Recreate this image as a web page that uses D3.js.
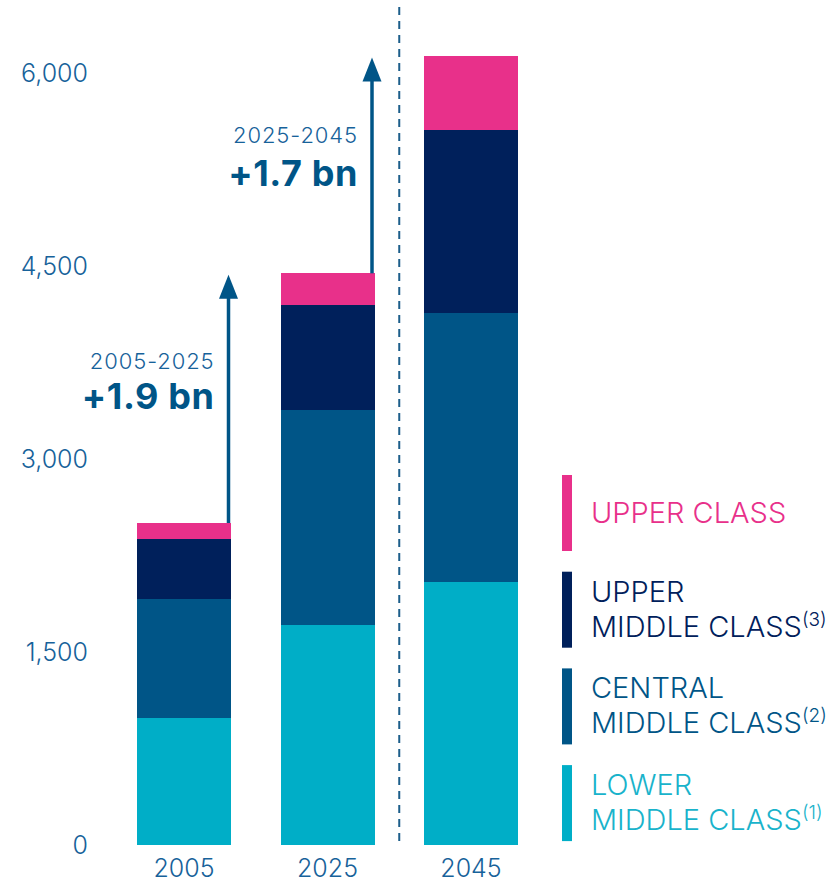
<!DOCTYPE html>
<html>
<head>
<meta charset="utf-8">
<script src="https://cdn.jsdelivr.net/npm/d3@7"></script>
<style>
  html, body { margin: 0; padding: 0; background: #ffffff; }
  svg { display: block; font-family: Inter, "Noto Sans", sans-serif; }
</style>
</head>
<body>
<svg id="chart" width="830" height="882"></svg>
<script>
// ---- data ----
const years = ["2005", "2025", "2045"];
const seriesKeys = ["lower", "central", "upperMiddle", "upper"];
const lowerMiddle = [987, 1710, 2045];
const centralMiddle = [925, 1671, 2090];
const upperMiddle = [466, 816, 1422];
const upperClass = [125, 246, 575];
const yTicks = [0, 1500, 3000, 4500, 6000];
const periodLabels = ["2005-2025", "2025-2045"];
const growthLabels = ["+1.9 bn", "+1.7 bn"];
const legendItems = [
  { key: "upper", lines: ["UPPER CLASS"], sup: "" },
  { key: "upperMiddle", lines: ["UPPER", "MIDDLE CLASS"], sup: "(3)" },
  { key: "central", lines: ["CENTRAL", "MIDDLE CLASS"], sup: "(2)" },
  { key: "lower", lines: ["LOWER", "MIDDLE CLASS"], sup: "(1)" }
];

const colors = {
  lower: "#00AEC7",
  central: "#005587",
  upperMiddle: "#00205B",
  upper: "#E8308A"
};
const textBlue = "#17629A";

const rows = years.map((y, i) => ({
  year: y,
  lower: lowerMiddle[i],
  central: centralMiddle[i],
  upperMiddle: upperMiddle[i],
  upper: upperClass[i]
}));

const svg = d3.select("#chart");

const y = d3.scaleLinear().domain([0, 6000]).range([845, 73]);
const x = d3.scaleBand().domain(years).range([112.25, 542.75])
  .paddingInner(1 - 94 / 143.5).paddingOuter((1 - 94 / 143.5) / 2);

const stacked = d3.stack().keys(seriesKeys)(rows);

// bars
svg.append("g").selectAll("g")
  .data(stacked)
  .join("g")
  .attr("fill", d => colors[d.key])
  .selectAll("rect")
  .data(d => d)
  .join("rect")
  .attr("x", d => x(d.data.year))
  .attr("width", x.bandwidth())
  .attr("y", d => y(d[1]))
  .attr("height", d => y(d[0]) - y(d[1]))
  .attr("shape-rendering", "crispEdges");

// dashed divider between 2025 and 2045
const divX = (x("2025") + x.bandwidth() + x("2045")) / 2;
svg.append("line")
  .attr("x1", divX).attr("x2", divX)
  .attr("y1", 7).attr("y2", 843)
  .attr("stroke", "#1C5E8A")
  .attr("stroke-width", 2)
  .attr("stroke-dasharray", "8,6");

// y axis
const yAxis = svg.append("g")
  .attr("transform", "translate(91,0)")
  .call(d3.axisLeft(y).tickValues(yTicks).tickSize(0).tickPadding(3).tickFormat(d3.format(",")));
yAxis.select(".domain").remove();
yAxis.selectAll("text")
  .attr("fill", textBlue)
  .attr("font-size", 25)
  .attr("font-family", "Inter, sans-serif")
  .attr("font-weight", 300);

// x axis
const xAxis = svg.append("g")
  .attr("transform", "translate(0,845)")
  .call(d3.axisBottom(x).tickSize(0).tickPadding(14));
xAxis.select(".domain").remove();
xAxis.selectAll("text")
  .attr("fill", textBlue)
  .attr("font-size", 25)
  .attr("font-family", "Inter, sans-serif")
  .attr("font-weight", 300);

// growth arrows
const totals = rows.map(r => seriesKeys.reduce((s, k) => s + r[k], 0));
const arrowColor = "#005587";
[0, 1].forEach(i => {
  const ax = x(years[i]) + x.bandwidth() - 2.5;
  const yStart = y(totals[i]);
  const yTip = y(totals[i + 1]) + 1.5;
  const headH = 24, headW = 19;
  svg.append("line")
    .attr("x1", ax).attr("x2", ax)
    .attr("y1", yStart).attr("y2", yTip + headH - 1)
    .attr("stroke", arrowColor)
    .attr("stroke-width", 3.5);
  svg.append("path")
    .attr("d", `M${ax},${yTip} L${ax + headW / 2},${yTip + headH} L${ax - headW / 2},${yTip + headH} Z`)
    .attr("fill", arrowColor);
  const tx = ax - 14;
  svg.append("text")
    .attr("x", tx)
    .attr("y", i === 0 ? 369 : 143)
    .attr("text-anchor", "end")
    .attr("fill", textBlue)
    .attr("font-size", 22)
    .attr("font-weight", 300)
    .attr("letter-spacing", 0.9)
    .text(periodLabels[i]);
  svg.append("text")
    .attr("x", tx)
    .attr("y", i === 0 ? 409 : 186)
    .attr("text-anchor", "end")
    .attr("fill", arrowColor)
    .attr("font-size", 36)
    .attr("font-weight", 700)
    .attr("letter-spacing", 0.6)
    .text(growthLabels[i]);
});

// legend
const legend = svg.append("g").attr("transform", "translate(562,475)");
legendItems.forEach((item, i) => {
  const g = legend.append("g").attr("transform", `translate(0,${i * 96.7})`);
  g.append("rect")
    .attr("x", 0).attr("y", 0)
    .attr("width", 10).attr("height", 76)
    .attr("fill", colors[item.key]);
  const txt = g.append("text")
    .attr("fill", item.key === "lower" ? "#19B3CB" : colors[item.key])
    .attr("font-size", 29)
    .attr("font-weight", 300);
  if (item.lines.length === 1) {
    txt.append("tspan").attr("x", 29).attr("y", 48).text(item.lines[0]);
  } else {
    txt.append("tspan").attr("x", 29).attr("y", 30).text(item.lines[0]);
    txt.append("tspan").attr("x", 29).attr("y", 65).text(item.lines[1]);
    txt.append("tspan").attr("font-size", 19).attr("dy", -11).text(item.sup);
  }
});
</script>
</body>
</html>
